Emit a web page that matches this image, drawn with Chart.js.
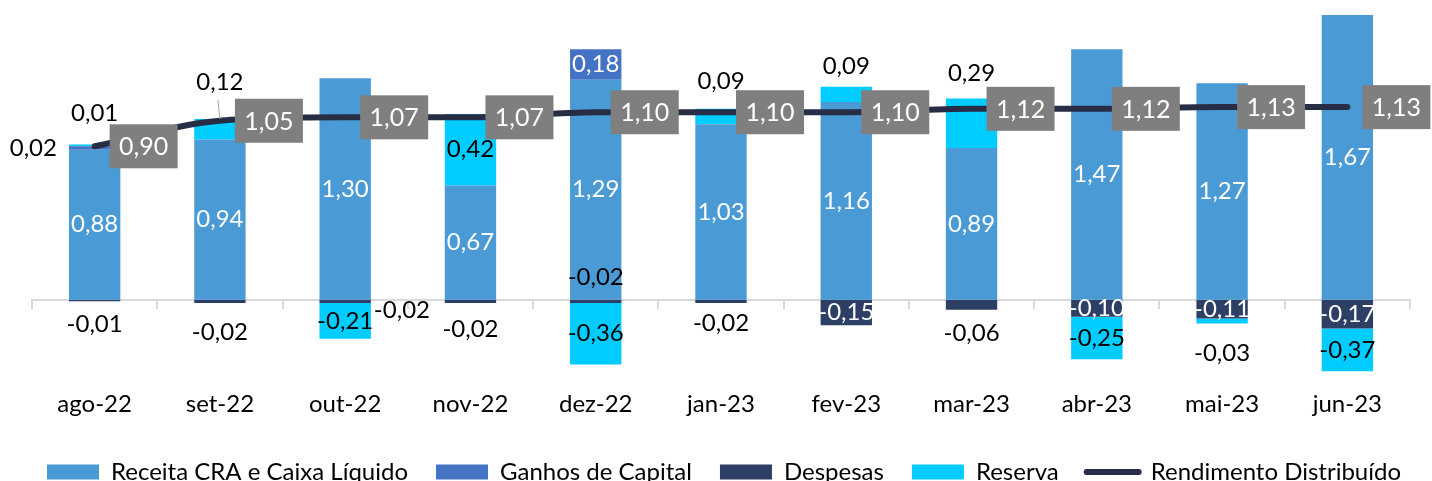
<!DOCTYPE html>
<html><head><meta charset="utf-8">
<script src="https://cdn.jsdelivr.net/npm/chart.js@4.4.1/dist/chart.umd.min.js"></script>
<style>html,body{margin:0;padding:0;overflow:hidden;background:#fff}#wrap{position:relative;width:1432px;height:494px}</style>
</head><body><div id="wrap"><canvas id="c"></canvas></div>
<script>
// ---- data ----
const CATEGORIES = ['ago-22','set-22','out-22','nov-22','dez-22','jan-23','fev-23','mar-23','abr-23','mai-23','jun-23'];
const RECEITA    = [0.88, 0.94, 1.30, 0.67, 1.29, 1.03, 1.16, 0.89, 1.47, 1.27, 1.67];
const GANHOS     = [0.02, null, null, null, 0.18, null, null, null, null, null, null];
const DESPESAS   = [-0.01, -0.02, -0.02, -0.02, -0.02, -0.02, -0.15, -0.06, -0.10, -0.11, -0.17];
const RESERVA    = [0.01, 0.12, -0.21, 0.42, -0.36, 0.09, 0.09, 0.29, -0.25, -0.03, -0.37];
const RENDIMENTO = [0.90, 1.05, 1.07, 1.07, 1.10, 1.10, 1.10, 1.12, 1.12, 1.13, 1.13];
const SERIES = ['Receita CRA e Caixa Líquido','Ganhos de Capital','Despesas','Reserva','Rendimento Distribuído'];
const Y_MIN = -0.42, Y_MAX = 1.70;

// ---- label placement (style, not data) ----
const PLACE_RECEITA  = ['c','c','c','c','c','c','c','c','c','c','c'];
const PLACE_GANHOS   = ['l','','','','c','','','','','',''];
const PLACE_DESPESAS = ['b23','b29','r9','b26','u22','b20','c','b23','c','c','c'];
const PLACE_RESERVA  = ['a31','A37','c','c','c','a28','a20','a25','c','b30','c'];

const FONT = 'Lato, "Liberation Sans", sans-serif';
Chart.defaults.font.family = FONT;
const fmt = v => v.toFixed(2).replace('.', ',');

const valueLabels = {
  id: 'valueLabels',
  afterDatasetsDraw(chart) {
    const ctx = chart.ctx, area = chart.chartArea;
    const zero = chart.scales.y.getPixelForValue(0);
    ctx.save();
    chart.data.datasets.forEach((ds, di) => {
      const meta = chart.getDatasetMeta(di);
      meta.data.forEach((el, i) => {
        const v = ds.data[i];
        if (v === null || v === undefined) return;
        if (ds.type === 'line') {
          const {x, y} = el.getProps(['x','y'], true);
          ctx.fillStyle = '#7F7F7F';
          ctx.fillRect(x + 15, y - 22, 68, 44);
          ctx.fillStyle = '#FFFFFF';
          ctx.font = '25px ' + FONT;
          ctx.textAlign = 'center'; ctx.textBaseline = 'middle';
          ctx.fillText(fmt(v), x + 49, y + 1);
          return;
        }
        const p = ds.labelPlace[i]; if (!p) return;
        const mode = p[0], off = parseFloat(p.slice(1)) || 0;
        const {x, y, base, width} = el.getProps(['x','y','base','width'], true);
        const top = Math.max(Math.min(y, base), area.top);
        const bot = Math.min(Math.max(y, base), area.bottom);
        let tx = x, ty = (top + bot) / 2, align = 'center', color = '#000000';
        if (mode === 'c') { color = ds.insideColor; }
        else if (mode === 'a' || mode === 'A') { ty = top - off; }
        else if (mode === 'b') { ty = bot + off; }
        else if (mode === 'l') { tx = x - width / 2 - 12; align = 'right'; }
        else if (mode === 'r') { tx = x + width / 2 + 3; align = 'left'; ty += off; }
        else if (mode === 'u') { ty = zero - off; }
        if (mode === 'A') {
          ctx.strokeStyle = '#A6A6A6'; ctx.lineWidth = 1;
          ctx.beginPath(); ctx.moveTo(x - 2, ty + 18); ctx.lineTo(x, top); ctx.stroke();
        }
        ctx.fillStyle = color;
        ctx.font = '24px ' + FONT;
        ctx.textAlign = align; ctx.textBaseline = 'middle';
        ctx.fillText(fmt(v), tx, ty);
      });
    });
    ctx.restore();
  }
};

const barDs = (label, data, color, place, inside) => ({
  type: 'bar', label, data, backgroundColor: color, borderWidth: 0,
  barPercentage: 0.41, categoryPercentage: 1.0, order: 1,
  labelPlace: place, insideColor: inside
});

new Chart(document.getElementById('c'), {
  data: {
    labels: CATEGORIES,
    datasets: [
      barDs(SERIES[0], RECEITA, '#4A9BD5', PLACE_RECEITA, '#FFFFFF'),
      barDs(SERIES[1], GANHOS, '#4472C4', PLACE_GANHOS, '#FFFFFF'),
      barDs(SERIES[2], DESPESAS, '#2E3F66', PLACE_DESPESAS, '#FFFFFF'),
      barDs(SERIES[3], RESERVA, '#00CCFF', PLACE_RESERVA, '#000000'),
      { type: 'line', label: SERIES[4], data: RENDIMENTO, borderColor: '#272D45', backgroundColor: '#272D45',
        borderWidth: 6, borderCapStyle: 'round', pointRadius: 0, cubicInterpolationMode: 'monotone', order: 0 }
    ]
  },
  options: {
    responsive: true, maintainAspectRatio: false, animation: false, events: [],
    layout: { padding: { top: 10, left: 19, right: 0, bottom: 0 } },
    scales: {
      x: { stacked: true, offset: true,
           grid: { display: false, drawTicks: false }, border: { display: false },
           ticks: { color: '#000000', font: { size: 24 }, padding: 19, maxRotation: 0, autoSkip: false },
           afterFit(s) { s.height -= 6; } },
      x2: { type: 'category', position: { y: 0 }, offset: true,
            grid: { display: true, drawOnChartArea: false, drawTicks: true, tickLength: 8, color: '#D9D9D9', lineWidth: 2, offset: true },
            border: { display: true, color: '#D9D9D9', width: 2 },
            ticks: { display: false } },
      y: { stacked: true, min: Y_MIN, max: Y_MAX, display: true,
           ticks: { display: false }, grid: { display: false }, border: { display: false },
           afterFit(s) { s.width = 13; } },
      yR: { position: 'right', display: true,
            ticks: { display: false }, grid: { display: false }, border: { display: false },
            afterFit(s) { s.width = 22; } }
    },
    plugins: {
      tooltip: { enabled: false },
      legend: {
        position: 'bottom', align: 'start',
        labels: {
          sort: (a, b) => a.datasetIndex - b.datasetIndex,
          usePointStyle: true, pointStyleWidth: 52, boxHeight: 15, padding: 28,
          color: '#000000', font: { size: 24 },
          generateLabels(chart) {
            const items = Chart.defaults.plugins.legend.labels.generateLabels(chart);
            items.forEach(it => {
              const ds = chart.data.datasets[it.datasetIndex];
              if (ds.type === 'line') { it.pointStyle = 'line'; it.lineWidth = 6; it.strokeStyle = ds.borderColor; it.lineCap = 'round'; }
              else { it.pointStyle = 'rect'; it.lineWidth = 0; it.fillStyle = ds.backgroundColor; it.strokeStyle = ds.backgroundColor; }
            });
            return items;
          }
        }
      }
    }
  },
  plugins: [valueLabels]
});
</script></body></html>
